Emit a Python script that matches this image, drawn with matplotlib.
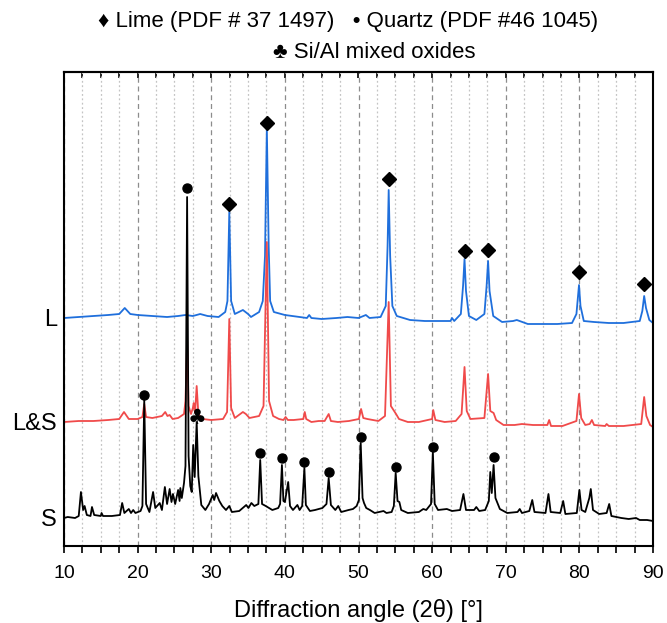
import matplotlib.pyplot as plt
from matplotlib.ticker import MultipleLocator

plt.rcParams['font.family'] = ['Liberation Sans', 'DejaVu Sans']

# stacked XRD traces, vertices (x = 2theta, y = stacked intensity)
s_x = [10.0, 10.5, 11.5, 12.0, 12.3, 12.6, 12.8, 13.1, 13.6, 13.8, 14.1, 15.0, 15.1, 15.3, 16.5, 17.6, 17.9, 18.2,
       18.8, 19.1, 19.4, 19.7, 20.4, 20.65, 20.9, 21.15, 21.6, 22.1, 22.4, 23.0, 23.3, 23.7, 24.0, 24.35, 24.6, 24.8,
       25.1, 25.5, 25.7, 25.8, 26.0, 26.3, 26.5, 26.72, 26.92, 27.15, 27.35, 27.55, 27.75, 28.02, 28.25, 28.65, 29.2,
       29.7, 30.2, 30.4, 30.65, 31.1, 31.5, 32.0, 32.45, 32.8, 33.8, 34.75, 35.05, 35.45, 35.85, 36.4, 36.65, 36.9,
       37.4, 38.3, 39.1, 39.35, 39.6, 39.8, 40.0, 40.45, 40.7, 41.1, 41.7, 42.0, 42.35, 42.65, 42.85, 43.4, 44.1,
       45.1, 45.65, 45.95, 46.25, 46.85, 47.25, 47.65, 48.65, 49.25, 49.75, 50.05, 50.3, 50.55, 50.75, 51.05, 51.55,
       52.2, 53.4, 53.8, 54.5, 54.8, 55.05, 55.3, 55.55, 55.8, 56.7, 58.2, 58.8, 59.2, 59.85, 60.1, 60.35, 60.8, 62.0,
       62.7, 63.8, 64.25, 64.6, 65.7, 66.0, 66.4, 67.2, 67.7, 67.9, 68.1, 68.35, 68.6, 69.2, 70.2, 71.6, 71.9, 72.2,
       73.2, 73.6, 73.9, 75.4, 75.8, 76.1, 77.4, 77.8, 78.1, 79.65, 80.0, 80.3, 80.8, 81.35, 81.55, 81.85, 82.7, 83.7,
       84.05, 84.35, 85.7, 86.7, 87.7, 88.2, 89.2, 90.0]
s_y = [28, 29, 28, 30, 54, 36, 40, 31, 30, 39, 31, 30, 33, 30, 30, 31, 43, 33,
       37, 33, 36, 33, 35, 40, 146, 42, 34, 54, 38, 43, 36, 59, 42, 57, 44, 52,
       42, 56, 45, 58, 48, 63, 80, 349, 90, 60, 54, 101, 69, 124, 70, 41, 36,
       42, 51, 46, 53, 45, 40, 36, 40, 34, 35, 41, 38, 43, 40, 42, 86, 42,
       40, 36, 38, 42, 81, 45, 44, 64, 40, 36, 41, 36, 40, 78, 41, 35, 36,
       38, 42, 68, 41, 36, 40, 34, 36, 37, 40, 46, 103, 48, 43, 38, 36,
       33, 35, 33, 34, 40, 73, 45, 44, 36, 33, 34, 37, 36, 42, 94, 42, 36, 37,
       35, 36, 52, 36, 36, 39, 35, 36, 45, 74, 53, 81, 48, 37, 33, 34, 37, 33,
       35, 46, 34, 33, 52, 34, 33, 45, 32, 33, 56, 36, 34, 48, 57, 36, 32, 33,
       42, 30, 28, 27, 28, 26, 26, 25]

ls_x = [10.0, 12.0, 14.0, 16.0, 17.5, 18.15, 18.8, 20.0, 20.65, 20.9, 21.15, 22.0, 23.3, 23.75, 24.05, 24.35, 24.75,
        25.5, 26.3, 26.5, 26.72, 26.92, 27.25, 27.5, 27.62, 27.8, 28.02, 28.25, 28.8, 30.0, 31.6, 32.15, 32.45, 32.7,
        33.2, 34.3, 34.7, 35.2, 36.5, 37.1, 37.55, 37.85, 38.4, 39.2, 39.8, 40.1, 40.4, 41.2, 42.5, 42.7, 42.9, 43.6,
        44.6, 45.4, 45.95, 46.25, 47.2, 48.7, 50.05, 50.35, 50.65, 51.2, 52.7, 53.6, 54.1, 54.4, 55.1, 55.5, 56.7,
        58.2, 60.0, 60.15, 60.45, 61.7, 63.2, 64.0, 64.4, 64.7, 65.2, 67.1, 67.6, 67.9, 68.35, 68.7, 69.7, 71.2, 72.2,
        73.7, 75.65, 75.9, 76.15, 77.7, 79.6, 79.95, 80.25, 80.8, 81.4, 81.7, 82.0, 83.5, 83.7, 84.0, 86.0, 88.4, 88.8,
        89.1, 89.6, 90.0]
ls_y = [124, 125, 125, 126, 127, 134, 127, 127, 129, 142, 129, 128, 130, 134, 130, 131, 127,
        128, 132, 145, 206, 140, 132, 138, 143, 133, 160, 132, 127, 126, 127, 134, 227, 138,
        128, 134, 132, 128, 130, 140, 304, 145, 130, 127, 126, 129, 126, 126, 127, 134, 127, 124,
        125, 125, 132, 125, 124, 125, 127, 137, 128, 127, 125, 130, 244, 140, 132, 127, 124,
        124, 127, 136, 126, 124, 125, 132, 179, 135, 127, 128, 172, 135, 133, 126, 121, 121, 122,
        121, 121, 126, 120, 120, 125, 152, 128, 121, 122, 126, 121, 120, 122, 120, 120, 122, 149,
        130, 121, 119]

l_x = [10.0, 12.0, 14.0, 16.0, 17.5, 18.25, 19.0, 20.0, 22.0, 24.0, 25.5, 26.5, 27.5, 28.5, 29.5, 31.0, 31.9, 32.2,
       32.45, 32.7, 33.2, 34.3, 35.0, 35.4, 36.5, 37.0, 37.3, 37.55, 37.8, 38.0, 38.5, 40.0, 42.0, 43.0, 43.3, 43.6,
       45.0, 47.0, 48.5, 50.0, 51.0, 51.5, 53.0, 53.7, 53.95, 54.1, 54.3, 54.6, 55.2, 57.0, 59.0, 61.0, 62.5, 62.7,
       63.0, 63.9, 64.2, 64.4, 64.6, 65.0, 66.0, 67.1, 67.4, 67.6, 67.8, 68.3, 69.5, 71.0, 71.5, 73.0, 75.0, 77.0,
       79.0, 79.6, 79.95, 80.15, 80.6, 82.0, 84.0, 86.0, 88.2, 88.55, 88.8, 89.05, 89.5, 90.0]
l_y = [228, 229, 230, 231, 232, 238, 232, 231, 230, 229, 230, 231, 230, 232, 230, 229, 234, 245,
       334, 245, 232, 236, 232, 229, 234, 245, 290, 418, 300, 245, 234, 231, 229, 228, 231, 228,
       227, 228, 229, 228, 231, 228, 229, 240, 300, 356, 290, 240, 230, 226, 225, 225, 225, 228,
       225, 232, 260, 287, 255, 230, 226, 232, 260, 285, 255, 230, 224, 225, 226, 222, 222, 222,
       223, 232, 261, 240, 225, 224, 223, 223, 225, 235, 250, 238, 226, 223]

# phase markers
lime_x = [32.45, 37.55, 54.1, 64.4, 67.6, 79.95, 88.8]
lime_y = [342, 423, 367, 295, 296, 274, 262]
quartz_x = [20.9, 26.72, 36.65, 39.6, 42.65, 45.95, 50.3, 55.05, 60.1, 68.35]
quartz_y = [151, 358, 93, 88, 84, 74, 109, 79, 99, 89]
oxide_x = [28.02]
oxide_y = [128]

trace_labels = ['L', 'L&S', 'S']
trace_levels = [228, 124, 29]

fig = plt.figure(figsize=(6.67, 6.23), dpi=100)
ax = fig.add_axes([64 / 667, 77 / 623, 589 / 667, 474 / 623])

ax.plot(l_x, l_y, color='#1f6fdc', lw=1.3, zorder=2)
ax.plot(ls_x, ls_y, color='#f04a4a', lw=1.3, zorder=2)
ax.plot(s_x, s_y, color='black', lw=1.3, zorder=3)

ax.plot(lime_x, lime_y, 'D', color='black', ms=7, zorder=4)
ax.plot(quartz_x, quartz_y, 'o', color='black', ms=6.5, zorder=4)
for x, y in zip(oxide_x, oxide_y):
    ax.text(x, y, '\u2663', ha='center', va='center', fontsize=15, family='DejaVu Sans', zorder=4)

ax.set_xlim(10, 90)
ax.set_ylim(0, 474)
ax.xaxis.set_major_locator(MultipleLocator(10))
ax.xaxis.set_minor_locator(MultipleLocator(2.5))
ax.grid(which='major', axis='x', color='#8c8c8c', ls=(0, (4, 3)), lw=0.9)
ax.grid(which='minor', axis='x', color='#c4c4c4', ls=(0, (1.5, 2)), lw=0.9)
ax.set_axisbelow(True)

ax.set_yticks(trace_levels)
ax.set_yticklabels(trace_labels, fontsize=17)
ax.tick_params(axis='y', length=0, pad=5)
ax.tick_params(axis='x', which='both', direction='out', length=5, width=1.2, labelsize=14, pad=9, top=False)
for s in ax.spines.values():
    s.set_linewidth(1.5)

# inward ticks along the top edge
top = ax.secondary_xaxis('top')
top.xaxis.set_major_locator(MultipleLocator(10))
top.xaxis.set_minor_locator(MultipleLocator(2.5))
top.tick_params(which='both', direction='in', length=4, width=1.2, labeltop=False)
top.spines['top'].set_linewidth(1.5)

ax.set_xlabel('Diffraction angle (2\u03b8) [\u00b0]', fontsize=17, labelpad=12)

fig.text(348 / 667, 1 - 21 / 623, '\u2666 Lime (PDF # 37 1497)   \u2022 Quartz (PDF #46 1045)',
         ha='center', va='center', fontsize=16)
fig.text(374 / 667, 1 - 52 / 623, '\u2663 Si/Al mixed oxides', ha='center', va='center', fontsize=16)

fig.savefig('out.png', dpi=100)
